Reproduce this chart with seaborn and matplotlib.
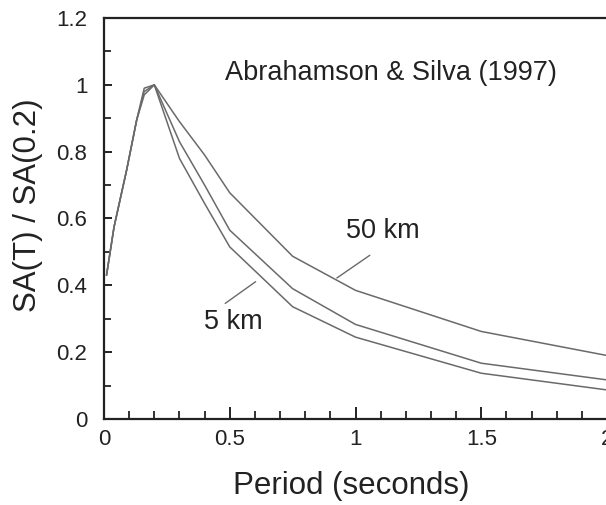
import numpy as np
import pandas as pd
import matplotlib
matplotlib.use("Agg")
import matplotlib.pyplot as plt
from matplotlib.ticker import MultipleLocator, FixedLocator
import seaborn as sns

# Data
periods = [0.01, 0.04, 0.09, 0.13, 0.16, 0.2, 0.3, 0.4, 0.5, 0.75, 1.0, 1.5, 2.0]
sa_5km = [0.43, 0.575, 0.745, 0.895, 0.99, 1.0, 0.78, 0.645, 0.515, 0.336, 0.245, 0.137, 0.087]
sa_mid = [0.43, 0.575, 0.745, 0.895, 0.98, 1.0, 0.83, 0.70, 0.565, 0.39, 0.283, 0.167, 0.117]
sa_50km = [0.43, 0.575, 0.745, 0.895, 0.97, 1.0, 0.89, 0.79, 0.677, 0.487, 0.385, 0.262, 0.19]
series_names = ["5 km", "mid", "50 km"]

x_ticks = [0, 0.5, 1, 1.5, 2]
x_ticklabels = ["0", "0.5", "1", "1.5", "2"]
y_ticks = [0, 0.2, 0.4, 0.6, 0.8, 1.0, 1.2]
y_ticklabels = ["0", "0.2", "0.4", "0.6", "0.8", "1", "1.2"]

df = pd.DataFrame({
    "T": periods * 3,
    "SA": sa_5km + sa_mid + sa_50km,
    "dist": sum([[n] * len(periods) for n in series_names], []),
})

sns.set_style("ticks")
plt.rcParams["font.family"] = ["Liberation Sans", "DejaVu Sans"]

fig = plt.figure(figsize=(6.06, 5.05), dpi=100)
W, H = 606, 505
AX_L, AX_R, AX_T, AX_B = 104, 607, 18, 419
ax = fig.add_axes([AX_L / W, (H - AX_B) / H, (AX_R - AX_L) / W, (AX_B - AX_T) / H])

line_color = "#6a6a6a"
sns.lineplot(data=df, x="T", y="SA", units="dist", estimator=None,
             color=line_color, linewidth=1.1, ax=ax, legend=False)

ax.set_xlim(0, 2)
ax.set_ylim(0, 1.2)
ax.xaxis.set_major_locator(FixedLocator(x_ticks))
ax.set_xticklabels(x_ticklabels)
ax.yaxis.set_major_locator(FixedLocator(y_ticks))
ax.set_yticklabels(y_ticklabels)
ax.xaxis.set_minor_locator(MultipleLocator(0.1))
ax.yaxis.set_minor_locator(MultipleLocator(0.1))

ax.tick_params(axis="x", which="major", direction="in", length=9, width=1.4,
               labelsize=16, pad=7, color="#222222", labelcolor="#222222")
ax.tick_params(axis="x", which="minor", direction="in", length=5.5, width=1.3,
               color="#222222")
ax.tick_params(axis="y", which="major", direction="in", length=6, width=1.4,
               labelsize=16, pad=12, color="#222222", labelcolor="#222222")
ax.tick_params(axis="y", which="minor", direction="in", length=5, width=1.3,
               color="#222222")

for s in ["left", "bottom", "top"]:
    ax.spines[s].set_visible(True)
    ax.spines[s].set_linewidth(1.6)
    ax.spines[s].set_color("#222222")
ax.spines["right"].set_visible(False)

ax.set_xlabel("Period (seconds)", fontsize=22.5, color="#222222")
ax.set_ylabel("SA(T) / SA(0.2)", fontsize=22.5, color="#222222")
ax.xaxis.set_label_coords((351 - AX_L) / (AX_R - AX_L), -(471 - AX_B) / (AX_B - AX_T))
ax.yaxis.set_label_coords(-(AX_L - 43) / (AX_R - AX_L), (AX_B - 205) / (AX_B - AX_T))

ax.text(1.142, 1.036, "Abrahamson & Silva (1997)", fontsize=19.5,
        ha="center", va="center", color="#222222")
ax.text(1.107, 0.563, "50 km", fontsize=19.5, ha="center", va="center", color="#222222")
ax.text(0.514, 0.29, "5 km", fontsize=19.5, ha="center", va="center", color="#222222")

# leader lines
ax.plot([1.057, 0.926], [0.49, 0.422], color=line_color, linewidth=1.0)
ax.plot([0.603, 0.482], [0.411, 0.346], color=line_color, linewidth=1.0)

fig.savefig("out.png", dpi=100)
